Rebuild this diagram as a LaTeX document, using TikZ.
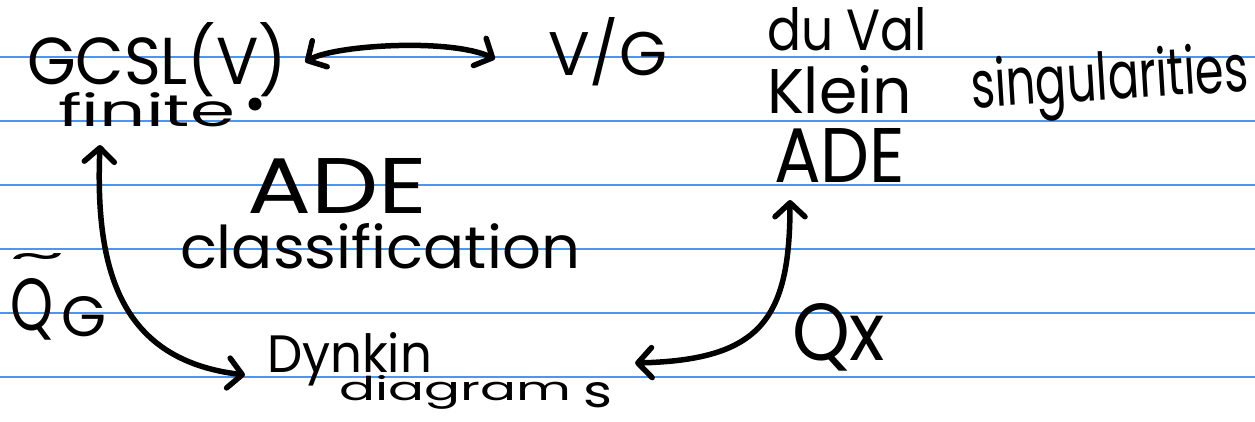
\documentclass[tikz,border=0pt]{standalone}
\usepackage{fontspec}
\setmainfont{Poppins}
\usepackage{graphicx}
\usetikzlibrary{arrows.meta}
\definecolor{ruleblue}{RGB}{75,150,240}
\tikzset{
  txt/.style={anchor=base west, inner sep=0pt, outer sep=0pt},
  rule/.style={draw=ruleblue, line width=1.3pt},
  ink/.style={line width=5.5pt, line cap=round, draw=black},
  >={Straight Barb[length=14pt,width=30pt,round]}
}
\newcommand\hw[3]{\resizebox{#1}{#2}{#3}}
\begin{document}
\begin{tikzpicture}[x=1pt,y=-1pt]
\useasboundingbox (0,0) rectangle (1255,421);
\fill[white] (0,0) rectangle (1255,421);
\foreach \yy in {57,121,185,249,313,377} \draw[rule] (0,\yy) -- (1255,\yy);

% texts
\node[txt] (gcsl) at (27,84) {\hw{260pt}{62pt}{GCSL(V)}};
\node[txt] (finite) at (58,126) {\hw{177pt}{34pt}{finite}};
\fill[black] (255,104) circle (6.5pt);
\node[txt] (vg) at (548,75) {\hw{119pt}{58pt}{V/G}};
\node[txt] (duval) at (767,50) {\hw{160pt}{43pt}{du Val}};
\node[txt] (klein) at (767,113) {\hw{145pt}{48pt}{Klein}};
\node[txt, rotate=3.5] (sing) at (972,108) {\hw{278pt}{50pt}{singularities}};
\node[txt] (adeR) at (774,182) {\hw{131pt}{54pt}{ADE}};
\node[txt] (adeL) at (247,213) {\hw{180pt}{55pt}{ADE}};
\node[txt] (classif) at (180,268) {\hw{400pt}{45pt}{classification}};
\node[txt] (q) at (10,330) {\hw{43pt}{52pt}{Q}};
\node[txt] (qsub) at (61,336) {\hw{45pt}{40pt}{G}};
\node[inner sep=0pt] (tilde) at (38,261) {\hw{56pt}{16pt}{\textasciitilde}};
\node[txt] (dynkin) at (267,372) {\hw{165pt}{40pt}{Dynkin}};
\node[txt] (diagrams) at (339,400) {\hw{232pt}{25pt}{diagram}\hspace{12pt}\raisebox{-7pt}{\hw{29pt}{25pt}{s}}};
\node[txt] (qx) at (792,360) {\hw{93pt}{57pt}{Qx}};

% connectors
\draw[ink,<->] ([xshift=18pt,yshift=22pt]gcsl.base east) .. controls (335,45) and (450,38) .. ([xshift=-53pt,yshift=16pt]vg.base west);
\draw[ink,<->] ([xshift=42pt,yshift=-19pt]finite.base west) .. controls (95,270) and (120,360) .. ([xshift=-22pt,yshift=-3pt]dynkin.base west);
\draw[ink,<->] ([xshift=16pt,yshift=-18pt]adeR.base west) .. controls (790,320) and (760,360) .. ([xshift=23pt,yshift=37pt]diagrams.base east);
\end{tikzpicture}
\end{document}
